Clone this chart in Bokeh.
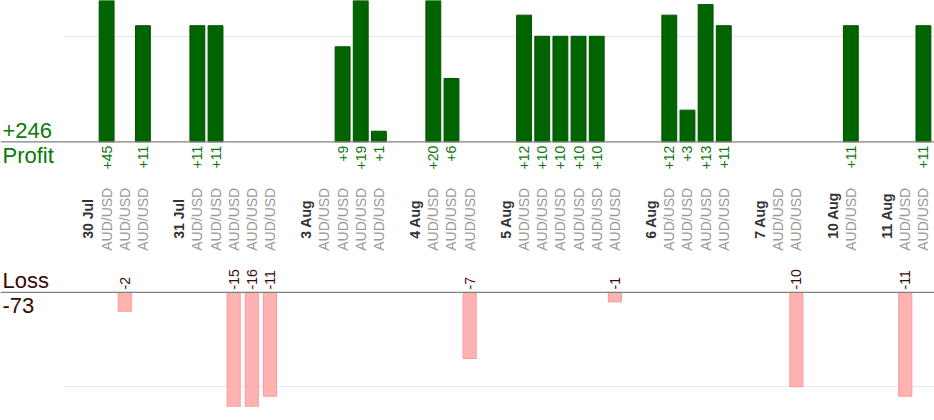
import math
from bokeh.plotting import figure
from bokeh.models import ColumnDataSource, Range1d, Span, Label, Grid, FixedTicker
from bokeh.core.properties import value
from bokeh.embed import file_html
from bokeh.resources import INLINE

# ---------------- data ----------------
dates = ["30 Jul", "31 Jul", "3 Aug", "4 Aug", "5 Aug", "6 Aug", "7 Aug", "10 Aug", "11 Aug"]
trades_per_day = [3, 5, 4, 3, 6, 4, 2, 1, 2]
pairs = ["AUD/USD"] * 30
pnl = [45, -2, 11,
       11, 11, -15, -16, -11,
       0, 9, 19, 1,
       20, 6, -7,
       12, 10, 10, 10, 10, -1,
       12, 3, 13, 11,
       0, -10,
       11,
       -11, 11]

# ---------------- layout of slots (spacer, date, trades...) ----------------
date_x = []
trade_x = []
slot = 0
for d, n in zip(dates, trades_per_day):
    slot += 1              # spacer slot
    date_x.append(slot)
    slot += 1
    for _ in range(n):
        trade_x.append(slot)
        slot += 1

prof_x = [x for x, v in zip(trade_x, pnl) if v > 0]
prof_v = [v for v in pnl if v > 0]
loss_x = [x for x, v in zip(trade_x, pnl) if v < 0]
loss_v = [v for v in pnl if v < 0]
total_profit = sum(prof_v)
total_loss = sum(loss_v)

W, H = 934, 407
FONT = "Liberation Sans"
GREEN_TXT = "#0a780a"
LOSS_TXT = "#3a0808"
X0, X1 = -3.846, 47.61

p = figure(width=W, height=H, output_backend="svg", toolbar_location=None,
           x_range=Range1d(X0, X1), y_range=Range1d(-25.18, 13.39),
           min_border=0, min_border_left=0, min_border_right=0,
           min_border_top=0, min_border_bottom=0)
p.extra_y_ranges = {"loss": Range1d(-12.2, 30.95)}
p.xaxis.visible = False
p.yaxis.visible = False
p.grid.visible = False
p.outline_line_color = None
p.background_fill_color = "white"
p.border_fill_color = "white"

# light grid lines at +10 (profit) and -10 (loss)
g1 = Grid(dimension=1, ticker=FixedTicker(ticks=[10]), grid_line_color="#e8e8e8", grid_line_width=1)
g2 = Grid(dimension=1, ticker=FixedTicker(ticks=[-10]), grid_line_color="#e8e8e8", grid_line_width=1,
          y_range_name="loss")
if "cross_bounds" in Grid.properties():
    g1.cross_bounds = (-0.375, X1)
    g2.cross_bounds = (-0.375, X1)
p.add_layout(g1)
p.add_layout(g2)

# bars
psrc = ColumnDataSource(dict(x=prof_x, v=prof_v, lbl=["+%d" % v for v in prof_v]))
lsrc = ColumnDataSource(dict(x=loss_x, v=loss_v, lbl=["%d" % v for v in loss_v]))

p.vbar(x="x", top="v", bottom=0, width=0.82, source=psrc,
       fill_color="#006400", line_color="#005200", line_width=1)
p.vbar(x="x", top=0, bottom="v", width=0.72, source=lsrc, y_range_name="loss",
       fill_color="#ffb2b2", line_color="#ff9797", line_width=1)

# baselines
p.add_layout(Span(location=0, dimension="width", line_color="#808080", line_width=1.3))
p.add_layout(Span(location=0, dimension="width", line_color="#808080", line_width=1.3,
                  y_range_name="loss"))

ang = math.pi / 2
# value labels
p.text(x="x", y=0, text="lbl", source=psrc, angle=ang, text_align="right",
       text_baseline="middle", y_offset=4, text_font=value(FONT),
       text_font_size="14px", text_color=GREEN_TXT)
p.text(x="x", y=0, text="lbl", source=lsrc, angle=ang, text_align="left",
       text_baseline="middle", y_offset=-3, y_range_name="loss",
       text_font=value(FONT), text_font_size="14px", text_color=LOSS_TXT)

# category labels
csrc = ColumnDataSource(dict(x=trade_x, t=pairs))
dsrc = ColumnDataSource(dict(x=date_x, t=dates))
p.text(x="x", y=0, text="t", source=csrc, angle=ang, text_align="left",
       text_baseline="middle", y_offset=109, text_font=value(FONT),
       text_font_size="14px", text_color="#9a9a9a")
p.text(x="x", y=0, text="t", source=dsrc, angle=ang, text_align="left",
       text_baseline="middle", y_offset=97, text_font=value(FONT),
       text_font_size="14px", text_font_style="bold", text_color="#333333")

# side titles
p.add_layout(Label(x=2, x_units="screen", y=0, text="+%d" % total_profit,
                   text_baseline="alphabetic", y_offset=11, text_font=FONT,
                   text_font_size="22px", text_color=GREEN_TXT))
p.add_layout(Label(x=2, x_units="screen", y=0, text="Profit",
                   text_baseline="alphabetic", y_offset=-13.5, text_font=FONT,
                   text_font_size="22px", text_color=GREEN_TXT))
p.add_layout(Label(x=2, x_units="screen", y=0, y_range_name="loss", text="Loss",
                   text_baseline="alphabetic", y_offset=12, text_font=FONT,
                   text_font_size="22px", text_color=LOSS_TXT))
p.add_layout(Label(x=2, x_units="screen", y=0, y_range_name="loss", text="%d" % total_loss,
                   text_baseline="alphabetic", y_offset=-13, text_font=FONT,
                   text_font_size="22px", text_color=LOSS_TXT))

open("out.html", "w").write(file_html(p, INLINE))
